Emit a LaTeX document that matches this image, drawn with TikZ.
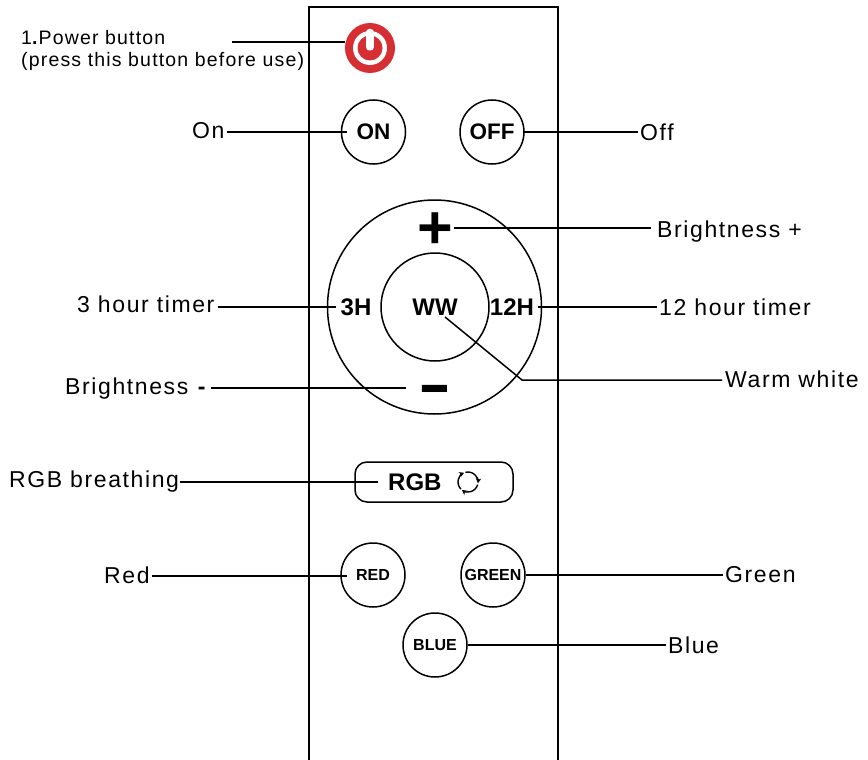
\documentclass[tikz,border=0pt]{standalone}
\usepackage{fontspec}
\usepackage{graphicx}
\setmainfont{Liberation Sans}
\newfontfamily\lab[LetterSpace=7]{Liberation Sans}
\newfontfamily\labs[LetterSpace=6]{Liberation Sans}
\usetikzlibrary{arrows.meta,calc}
\definecolor{pwr}{HTML}{D62E33}
\tikzset{
  x=1pt,y=-1pt,
  caption/.style={font=\fontsize{23}{26}\selectfont\lab,inner sep=0pt,anchor=base west,text=black},
  smallcap/.style={font=\fontsize{19.5}{22}\selectfont\labs,inner sep=0pt,anchor=north west,align=left,text=black},
  roundbtn/.style={circle,draw=black,line width=1.5pt,minimum size=64pt,inner sep=0pt,text=black},
  bigbtn/.style={roundbtn,font=\fontsize{22.5}{24}\selectfont\bfseries},
  tinybtn/.style={roundbtn,font=\fontsize{16}{18}\selectfont\bfseries},
  keytext/.style={inner sep=0pt,font=\fontsize{24}{26}\selectfont\bfseries,text=black},
  leader/.style={draw=black,line width=1.5pt},
  frameline/.style={draw=black,line width=2pt},
}
\begin{document}
\begin{tikzpicture}
\useasboundingbox (0,0) rectangle (868,760);
% remote body
\draw[frameline] (309,760) -- (309,7) -- (558,7) -- (558,760);
\coordinate (powerFree) at (232,42);
% power button
\node[inner sep=0pt,minimum size=50pt,circle,fill=pwr] (bPower) at (370,48) {};
\fill[white] (370,48) circle[radius=17];
\fill[pwr] (370,48) circle[radius=12.5];
\fill[white,rounded corners=3pt] (366.2,29) rectangle (373.8,50.5);
% buttons
\node[bigbtn] (bOn) at (373.5,132) {ON};
\node[bigbtn] (bOff) at (492,132) {OFF};
\draw[line width=1.5pt] (434.5,307) circle[radius=107];
\node[roundbtn,minimum size=108pt,keytext] (bWW) at (435,307) {WW};
\node[keytext] (b3H) at (356,307) {3H};
\node[keytext] (b12H) at (512,307) {12H};
\node[inner sep=0pt,anchor=base,font=\fontsize{61}{61}\selectfont\bfseries] (bPlus) at (435,248) {+};
\node[inner sep=0pt,anchor=base,font=\fontsize{60}{60}\selectfont\bfseries] (bMinus) at (434.5,404.5) {\scalebox{1.65}[1]{-}};
\node[draw=black,line width=1.5pt,rounded corners=12pt,minimum width=158pt,minimum height=40pt] (bRGB) at (434,482) {};
\node[keytext,anchor=base west] (tRGB) at (388,490.5) {RGB};
% cycle icon
\coordinate (cyc) at (468,482);
\foreach \a in {-105,15,135}{
  \draw[line width=1.4pt,-{Stealth[length=5pt,width=5.5pt]}] ($(cyc)+(\a:10)$) arc[start angle=\a,end angle=\a+112,radius=10];
}
\node[roundbtn,tinybtn] (bRed) at (373,575) {RED};
\node[roundbtn,tinybtn] (bGreen) at (493,575) {GREEN};
\node[roundbtn,tinybtn] (bBlue) at (435,645) {BLUE};
% captions
\node[smallcap] (lPower) at (21,30.5) {1\textbf{.}Power button\\(press this button before use)};
\node[caption] (lOn) at (192,139) {On};
\node[caption] (lOff) at (640,140) {Off};
\node[caption] (lPlus) at (657,237) {Brightness +};
\node[caption] (l3H) at (77,312) {3 hour timer};
\node[caption] (l12H) at (659,315) {12 hour timer};
\node[caption] (lMinus) at (65,394) {Brightness \textbf{-}};
\node[caption] (lWW) at (725,387) {Warm white};
\node[caption] (lRGB) at (9,487) {RGB breathing};
\node[caption] (lRed) at (104,583) {Red};
\node[caption] (lGreen) at (725,582) {Green};
\node[caption] (lBlue) at (668,653) {Blue};
% connectors
\draw[leader] (powerFree) -- (powerFree -| bPower.west);
\draw[leader,shorten <=2pt,shorten >=-6pt] (lOn.east |- bOn.west) -- (bOn.west);
\draw[leader,shorten <=-2pt,shorten >=2pt] (bOff.east) -- (lOff.west |- bOff.east);
\draw[leader,shorten <=1pt,shorten >=6pt] (bPlus.east |- 0,228) -- (lPlus.west |- 0,228);
\draw[leader,shorten <=3pt,shorten >=4pt] (l3H.east |- b3H.west) -- (b3H.west);
\draw[leader,shorten <=4pt,shorten >=2pt] (b12H.east) -- (l12H.west |- b12H.east);
\draw[leader,shorten <=4pt,shorten >=12pt] (lMinus.east |- 0,388) -- (bMinus.west |- 0,388);
\coordinate (wwBend) at (522,380);
\draw[leader,line join=miter,shorten >=3pt] (445,317) -- (wwBend) -- (lWW.west |- wwBend);
\draw[leader,shorten <=1pt,shorten >=10pt] (lRGB.east |- bRGB.west) -- (tRGB.west |- bRGB.west);
\draw[leader,shorten <=2pt,shorten >=-7pt] (lRed.east |- 0,576) -- (bRed.west |- 0,576);
\draw[leader,shorten >=2pt] (bGreen.east) -- (lGreen.west |- bGreen.east);
\draw[leader,shorten >=2pt] (bBlue.east) -- (lBlue.west |- bBlue.east);
\end{tikzpicture}
\end{document}
